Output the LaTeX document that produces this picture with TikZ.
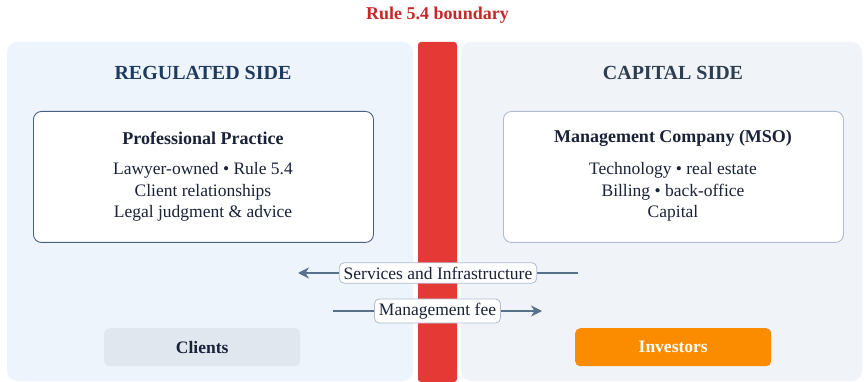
\documentclass[tikz,border=0pt]{standalone}
\usepackage{fontspec}
\setmainfont{Liberation Serif}
\usetikzlibrary{arrows.meta}
\definecolor{ruleRed}{HTML}{C62828}
\definecolor{barRed}{HTML}{E53935}
\definecolor{leftBg}{HTML}{EEF4FB}
\definecolor{rightBg}{HTML}{F0F3F8}
\definecolor{navy}{HTML}{1F3A5F}
\definecolor{slate}{HTML}{2D3E50}
\definecolor{ink}{HTML}{1A2238}
\definecolor{edgeDark}{HTML}{4A6080}
\definecolor{edgeLight}{HTML}{B0BCCF}
\definecolor{flowCol}{HTML}{5A6F8A}
\definecolor{chipGray}{HTML}{E1E7EF}
\definecolor{orangeFill}{HTML}{FB8C00}
\newcommand{\fs}[2]{\fontsize{#1}{#2}\selectfont}
\tikzset{
  panel/.style={rounded corners=10pt, draw=none},
  heading/.style={font=\fs{20}{24}\bfseries, anchor=center},
  entity/.style={draw, line width=0.9pt, fill=white, rounded corners=8pt,
    minimum width=340pt, minimum height=131pt, anchor=north west},
  chip/.style={rounded corners=5pt, minimum width=196pt, minimum height=38pt,
    anchor=north west, font=\fs{17.5}{21}\bfseries},
  flow/.style={draw=flowCol, line width=1.6pt, -{Stealth[length=11pt,width=11pt,inset=3.5pt]}},
  flowlabel/.style={fill=white, draw=edgeLight, line width=0.8pt, rounded corners=5pt,
    text=ink, font=\fs{17.5}{21}, inner xsep=4.5pt, inner ysep=4pt}
}
\begin{document}
\begin{tikzpicture}[x=1pt, y=-1pt]
  \useasboundingbox (0,0) rectangle (865,382);
  \fill[white] (0,0) rectangle (865,382);

  % the two sides and the boundary bar between them
  \fill[panel, leftBg] (7,42) rectangle (413,381);
  \fill[panel, rightBg] (461,42) rectangle (862,381);
  \fill[barRed, rounded corners=3pt] (418,42) rectangle (457,382);
  \node[text=ruleRed, font=\fs{18}{22}\bfseries] (boundary) at (437.5,15) {Rule 5.4 boundary};

  % side headings
  \node[heading, text=navy] (regulated) at (203,73) {REGULATED SIDE};
  \node[heading, text=slate] (capital) at (673,73) {CAPITAL SIDE};

  % the two entities
  \node[entity, draw=edgeDark] (practice) at (33,111) {};
  \node[text=ink, font=\fs{18}{22}\bfseries] (practiceT) at (203,138) {Professional Practice};
  \node[text=ink, font=\fs{17.5}{21.5}, align=center] (practiceB) at (203,192)
    {Lawyer-owned • Rule 5.4\\Client relationships\\Legal judgment \& advice};

  \node[entity, draw=edgeLight] (mso) at (503,111) {};
  \node[text=ink, font=\fs{18}{22}\bfseries] (msoT) at (673,138) {Management Company (MSO)};
  \node[text=ink, font=\fs{17.5}{21.5}, align=center] (msoB) at (673,192)
    {Technology • real estate\\Billing • back-office\\Capital};

  % flows across the boundary
  \coordinate (svcFrom) at (578,273);
  \coordinate (svcTo) at (298,273);
  \coordinate (feeFrom) at (333,311);
  \coordinate (feeTo) at (542,311);
  \draw[flow] (svcFrom) -- (svcTo)
    node[midway, flowlabel] (svcLabel) {Services and Infrastructure};
  \draw[flow] (feeFrom) -- (feeTo)
    node[midway, flowlabel] (feeLabel) {Management fee};

  % parties outside the two entities
  \node[chip, fill=chipGray, text=ink] (clients) at (104,328) {Clients};
  \node[chip, fill=orangeFill, text=white] (investors) at (575,328) {Investors};
\end{tikzpicture}
\end{document}
